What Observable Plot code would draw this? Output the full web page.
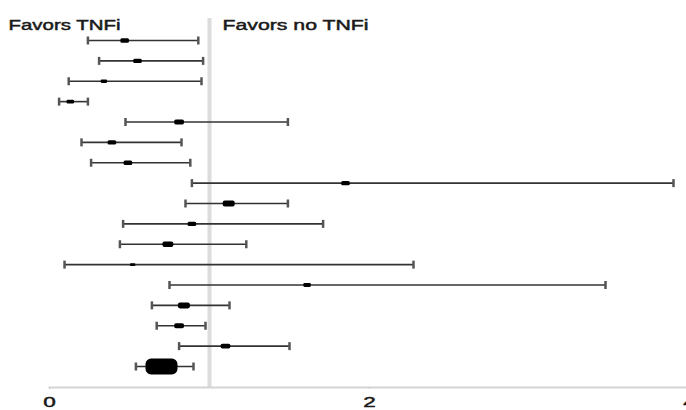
<!DOCTYPE html>
<html>
<head>
<meta charset="utf-8">
<script src="https://cdn.jsdelivr.net/npm/d3@7"></script>
<script src="https://cdn.jsdelivr.net/npm/@observablehq/plot@0.6"></script>
<style>
  html, body { margin: 0; padding: 0; background: #fff; }
  svg { display: block; }
</style>
</head>
<body>
<div id="chart"></div>
<script>
// ---- data ----
const studies = ["Study 1","Study 2","Study 3","Study 4","Study 5","Study 6","Study 7","Study 8",
                 "Study 9","Study 10","Study 11","Study 12","Study 13","Study 14","Study 15","Study 16"];
const estimates = [0.47, 0.55, 0.34, 0.13, 0.81, 0.39, 0.49, 1.85, 1.12, 0.89, 0.74, 0.52, 1.61, 0.84, 0.81, 1.10];
const lower     = [0.24, 0.31, 0.12, 0.06, 0.475, 0.20, 0.26, 0.89, 0.85, 0.46, 0.44, 0.094, 0.75, 0.64, 0.67, 0.81];
const upper     = [0.93, 0.96, 0.95, 0.24, 1.49, 0.825, 0.88, 3.90, 1.49, 1.71, 1.23, 2.275, 3.475, 1.125, 0.975, 1.50];
const weights   = [6.0, 6.0, 3.4, 4.6, 7.6, 6.0, 6.0, 6.0, 11.4, 6.0, 9.4, 2.3, 4.6, 11.4, 7.6, 7.6];
const pooledLabel = "Overall";
const pooledEstimate = 0.70;
const pooledLower = 0.54;
const pooledUpper = 0.90;
const nullValue = 1;
const sideLabels = ["Favors TNFi", "Favors no TNFi"];
const xTicks = [0, 2, 4];

// ---- tables built from the arrays ----
const rows = [...studies, pooledLabel];
const studyData = studies.map((s, i) => ({study: s, estimate: estimates[i], lower: lower[i], upper: upper[i], weight: weights[i]}));
const pooledData = [{study: pooledLabel, estimate: pooledEstimate, lower: pooledLower, upper: pooledUpper}];
const allData = [...studyData, ...pooledData];
const capData = allData.flatMap(d => [{study: d.study, value: d.lower}, {study: d.study, value: d.upper}]);

// rounded "pill" symbol (wide, as in the reference)
const pill = {
  draw(ctx, size) {
    const r = Math.sqrt(size / Math.PI);
    const a = 2 * r, b = r, c = 0.7 * r;
    ctx.moveTo(-a + c, -b);
    ctx.lineTo(a - c, -b);
    ctx.arcTo(a, -b, a, -b + c, c);
    ctx.lineTo(a, b - c);
    ctx.arcTo(a, b, a - c, b, c);
    ctx.lineTo(-a + c, b);
    ctx.arcTo(-a, b, -a, b - c, c);
    ctx.lineTo(-a, -b + c);
    ctx.arcTo(-a, -b, -a + c, -b, c);
    ctx.closePath();
  }
};
// vertical cap symbol
const cap = {
  draw(ctx, size) {
    const r = Math.sqrt(size / Math.PI);
    ctx.moveTo(0, -r);
    ctx.lineTo(0, r);
  }
};

const chart = Plot.plot({
  width: 686,
  height: 410,
  marginTop: 18,
  marginBottom: 23,
  marginLeft: 49,
  marginRight: 0,
  style: {fontFamily: "'Liberation Sans', Arial, sans-serif", fontSize: "15.5px", color: "#222", background: "#fff"},
  x: {domain: [0, 4], range: [49, 689], label: null},
  y: {type: "point", domain: rows, range: [40, 366], padding: 0, round: false, axis: null},
  r: {type: "sqrt", domain: [0, d3.max(weights)], range: [0, 3]},
  marks: [
    Plot.ruleX([nullValue], {stroke: "#dcdcdc", strokeWidth: 4}),
    Plot.frame({anchor: "bottom", stroke: "#d4d4d4", strokeWidth: 2}),
    Plot.axisX({ticks: xTicks, tickSize: 2, tickPadding: 6, stroke: "#ccc", fill: "#1a1a1a", label: null, tickFormat: d => String(d)}),
    Plot.ruleY(allData, {y: "study", x1: "lower", x2: "upper", stroke: "#333", strokeWidth: 1.6}),
    Plot.dot(capData, {x: "value", y: "study", symbol: cap, r: 4, fill: "none", stroke: "#555", strokeWidth: 2.5}),
    Plot.dot(studyData, {x: "estimate", y: "study", r: "weight", symbol: pill, fill: "#000", stroke: "none"}),
    Plot.dot(pooledData, {x: "estimate", y: "study", r: 8, symbol: pill, fill: "#000", stroke: "none"}),
    Plot.text([sideLabels[0]], {x: () => nullValue, text: d => d, frameAnchor: "top", textAnchor: "start", dx: -201, fontSize: 15.5, fill: "#1a1a1a", stroke: "#1a1a1a", strokeWidth: 0.5}),
    Plot.text([sideLabels[1]], {x: () => nullValue, text: d => d, frameAnchor: "top", textAnchor: "start", dx: 13, fontSize: 15.5, fill: "#1a1a1a", stroke: "#1a1a1a", strokeWidth: 0.5})
  ]
});

document.getElementById("chart").appendChild(chart);

// horizontal stretch of the text, as in the (stretched) reference
const svg = d3.select(chart);
svg.selectAll("text").each(function() {
  const t = this.textContent;
  let target;
  if (t === sideLabels[0]) target = 112;
  else if (t === sideLabels[1]) target = 146;
  else {
    target = this.getComputedTextLength() * 1.45;
    this.setAttribute("stroke", "#1a1a1a");
    this.setAttribute("stroke-width", 0.5);
  }
  this.setAttribute("textLength", target);
  this.setAttribute("lengthAdjust", "spacingAndGlyphs");
});
</script>
</body>
</html>
